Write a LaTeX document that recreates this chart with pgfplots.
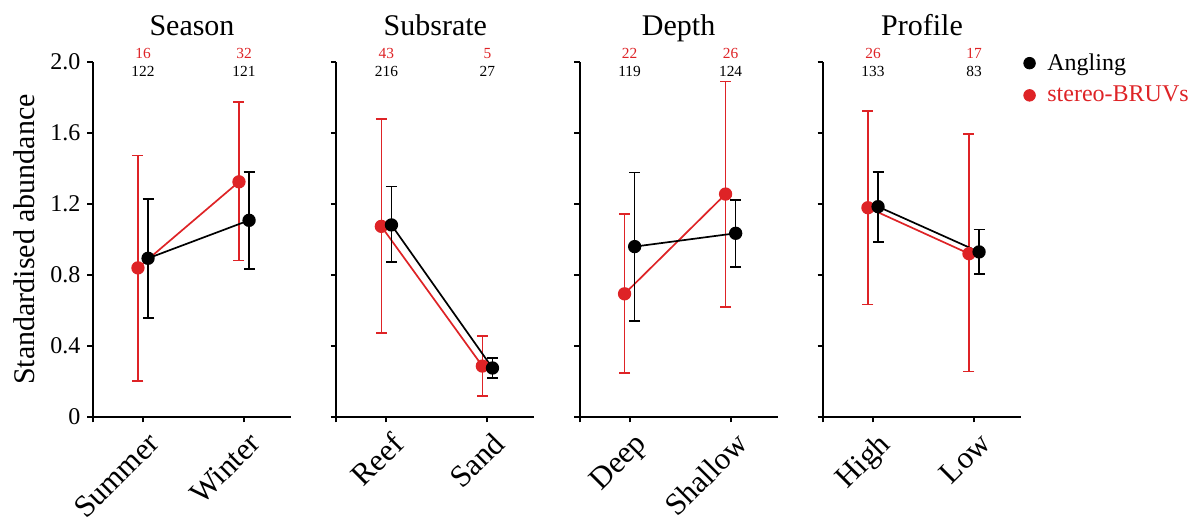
\documentclass[border=0pt]{standalone}
\usepackage{fontspec}
\setmainfont{Liberation Serif}
\usepackage{pgfplots}
\pgfplotsset{compat=1.18}
\definecolor{bred}{RGB}{222,35,38}
\pgfplotsset{
  panel/.style={
    scale only axis, width=99pt, height=177.5pt,
    xmin=-0.495, xmax=1.465, ymin=0, ymax=2,
    axis x line*=bottom, axis y line*=left,
    axis line style={-, line width=0.95pt},
    ytick={0,0.4,0.8,1.2,1.6,2.0},
    yticklabels={,,,,,},
    tick align=outside, major tick length=2.75pt,
    tick style={line width=0.95pt, black},
    xtick={-0.495,0,1},
    xticklabel style={rotate=45, anchor=north east, font=\fontsize{15.5}{18}\selectfont, inner sep=1pt, yshift=-3pt, xshift=-0.5pt},
    yticklabel style={font=\fontsize{12}{14}\selectfont},
    title style={at={(0.5,1)}, anchor=base, yshift=7pt, font=\fontsize{15}{18}\selectfont},
    clip=false,
  },
  redser/.style={color=bred, line width=0.85pt, mark=*, mark size=2.9pt,
    mark options={solid, fill=bred, draw=bred},
    error bars/y dir=both, error bars/y explicit,
    error bars/error bar style={line width=0.8pt, color=bred},
    error bars/error mark options={rotate=90, mark size=2.75pt, line width=0.8pt, color=bred}},
  blkser/.style={color=black, line width=0.85pt, mark=*, mark size=2.9pt,
    mark options={solid, fill=black, draw=black},
    error bars/y dir=both, error bars/y explicit,
    error bars/error bar style={line width=0.8pt, color=black},
    error bars/error mark options={rotate=90, mark size=2.75pt, line width=0.8pt, color=black}},
}
\newcommand{\counts}[4]{%
  \node[anchor=base, text=bred, font=\fontsize{7.7}{9}\selectfont, yshift=1.5pt] at (axis cs:0,2) {#1};
  \node[anchor=base, text=black, font=\fontsize{7.7}{9}\selectfont, yshift=-7.5pt] at (axis cs:0,2) {#2};
  \node[anchor=base, text=bred, font=\fontsize{7.7}{9}\selectfont, yshift=1.5pt] at (axis cs:1,2) {#3};
  \node[anchor=base, text=black, font=\fontsize{7.7}{9}\selectfont, yshift=-7.5pt] at (axis cs:1,2) {#4};
}
\begin{document}
\begin{tikzpicture}
% Season
\begin{axis}[panel, at={(0pt,0pt)}, title={Season},
  xticklabels={,Summer,Winter},
  yticklabels={0,0.4,0.8,1.2,1.6,2.0}]
\addplot[redser] coordinates {(-0.05,0.840) += (0,0.633) -= (0,0.638) (0.95,1.325) += (0,0.448) -= (0,0.444)};
\addplot[blkser] coordinates {(0.05,0.894) += (0,0.334) -= (0,0.335) (1.05,1.108) += (0,0.273) -= (0,0.274)};
\counts{16}{122}{32}{121}
\end{axis}
% Substrate
\begin{axis}[panel, at={(121.7pt,0pt)}, title={Subsrate},
  xticklabels={,Reef,Sand}]
\addplot[redser] coordinates {(-0.05,1.074) += (0,0.604) -= (0,0.600) (0.95,0.287) += (0,0.168) -= (0,0.169)};
\addplot[blkser] coordinates {(0.05,1.082) += (0,0.217) -= (0,0.210) (1.05,0.276) += (0,0.058) -= (0,0.055)};
\counts{43}{216}{5}{27}
\end{axis}
% Depth
\begin{axis}[panel, at={(243.3pt,0pt)}, title={Depth},
  xticklabels={,Deep,Shallow}]
\addplot[redser] coordinates {(-0.05,0.694) += (0,0.449) -= (0,0.445) (0.95,1.256) += (0,0.635) -= (0,0.637)};
\addplot[blkser] coordinates {(0.05,0.960) += (0,0.418) -= (0,0.420) (1.05,1.035) += (0,0.187) -= (0,0.190)};
\counts{22}{119}{26}{124}
\end{axis}
% Profile
\begin{axis}[panel, at={(365pt,0pt)}, title={Profile},
  xticklabels={,High,Low},
  legend style={at={(1.012,0.952)}, anchor=west, draw=none, fill=none,
    font=\fontsize{12}{14}\selectfont, row sep=2.5pt, column sep=4pt, inner sep=0pt},
  legend cell align=left,
  legend image code/.code={\draw[#1] plot coordinates {(0pt,0pt)};}]
\addplot[forget plot, redser] coordinates {(-0.05,1.179) += (0,0.545) -= (0,0.545) (0.95,0.920) += (0,0.673) -= (0,0.663)};
\addplot[forget plot, blkser] coordinates {(0.05,1.185) += (0,0.195) -= (0,0.199) (1.05,0.930) += (0,0.127) -= (0,0.124)};
\counts{26}{133}{17}{83}
\addlegendimage{only marks, mark=*, mark size=2.9pt, black}
\addlegendentry{Angling}
\addlegendimage{only marks, mark=*, mark size=2.9pt, bred}
\addlegendentry{\textcolor{bred}{stereo-BRUVs}}
\end{axis}
\node[rotate=90, anchor=base, font=\fontsize{15}{18}\selectfont] at (-29pt,88.75pt) {Standardised abundance};
\pgfresetboundingbox
\useasboundingbox (-46.5pt,-50.5pt) rectangle (551.5pt,208.5pt);
\end{tikzpicture}
\end{document}
